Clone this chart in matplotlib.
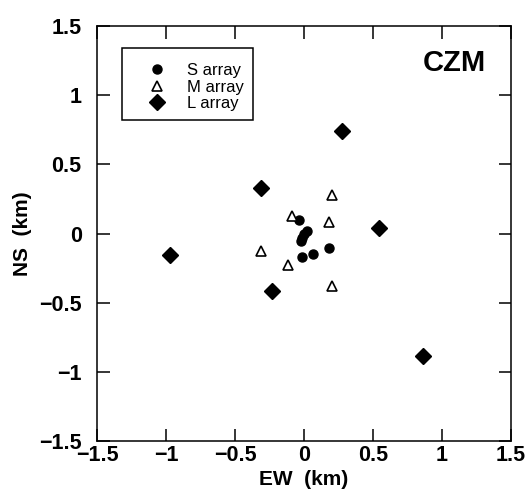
import matplotlib
matplotlib.use("Agg")
import matplotlib.pyplot as plt
from matplotlib.patches import Rectangle

plt.rcParams['font.family'] = ['Liberation Sans', 'DejaVu Sans']

# station coordinates (km)
s_ew = [-0.036, 0.02, 0.0, -0.015, -0.02, -0.018, 0.068, 0.18]
s_ns = [0.10, 0.02, 0.0, -0.03, -0.055, -0.17, -0.148, -0.108]

m_ew = [0.20, -0.085, 0.18, -0.31, -0.115, 0.20]
m_ns = [0.278, 0.13, 0.082, -0.128, -0.225, -0.377]

l_ew = [0.273, -0.312, 0.546, -0.971, -0.23, 0.865]
l_ns = [0.739, 0.331, 0.041, -0.157, -0.418, -0.889]

ticks = [-1.5, -1, -0.5, 0, 0.5, 1, 1.5]
tick_labels = ['\u22121.5', '\u22121', '\u22120.5', '0', '0.5', '1', '1.5']

W, H = 530, 497
fig = plt.figure(figsize=(W / 100, H / 100), dpi=100)
ax = fig.add_axes([97 / W, 1 - 441 / H, 414 / W, 415 / H])

ax.plot(s_ew, s_ns, 'o', color='black', markersize=6.5, label='S array', linestyle='none')
ax.plot(m_ew, m_ns, '^', markerfacecolor='white', markeredgecolor='black',
        markersize=7.5, markeredgewidth=1.2, label='M array', linestyle='none')
ax.plot(l_ew, l_ns, 'D', color='black', markersize=8, label='L array', linestyle='none')

ax.set_xlim(-1.5, 1.5)
ax.set_ylim(-1.5, 1.5)
ax.set_xticks(ticks)
ax.set_yticks(ticks)
ax.set_xticklabels(tick_labels, fontsize=15.5, fontweight='bold')
ax.set_yticklabels(tick_labels, fontsize=15.5, fontweight='bold')
ax.tick_params(direction='in', top=True, right=True, length=9, width=1.1)
ax.tick_params(axis='x', pad=3)
ax.tick_params(axis='y', pad=11)
for sp in ax.spines.values():
    sp.set_linewidth(1.1)

ax.set_xlabel('EW  (km)', fontsize=15, fontweight='bold', labelpad=3)
ax.set_ylabel('NS  (km)', fontsize=15, fontweight='bold', labelpad=5)

ax.text(0.94, 0.91, 'CZM', transform=ax.transAxes, fontsize=21,
        fontweight='bold', ha='right', va='center')

# legend box
ax.add_patch(Rectangle((0.0597, 0.773), 0.3171, 0.174, transform=ax.transAxes,
                       fill=False, edgecolor='black', linewidth=1.1, zorder=5))
leg = ax.legend(loc='upper left', bbox_to_anchor=(149 / W, 1 - 63 / H),
                bbox_transform=fig.transFigure, fontsize=12, frameon=False,
                borderpad=0, borderaxespad=0, handlelength=1.0,
                handletextpad=1.3, labelspacing=0.1)

fig.savefig('out.png', dpi=100)
